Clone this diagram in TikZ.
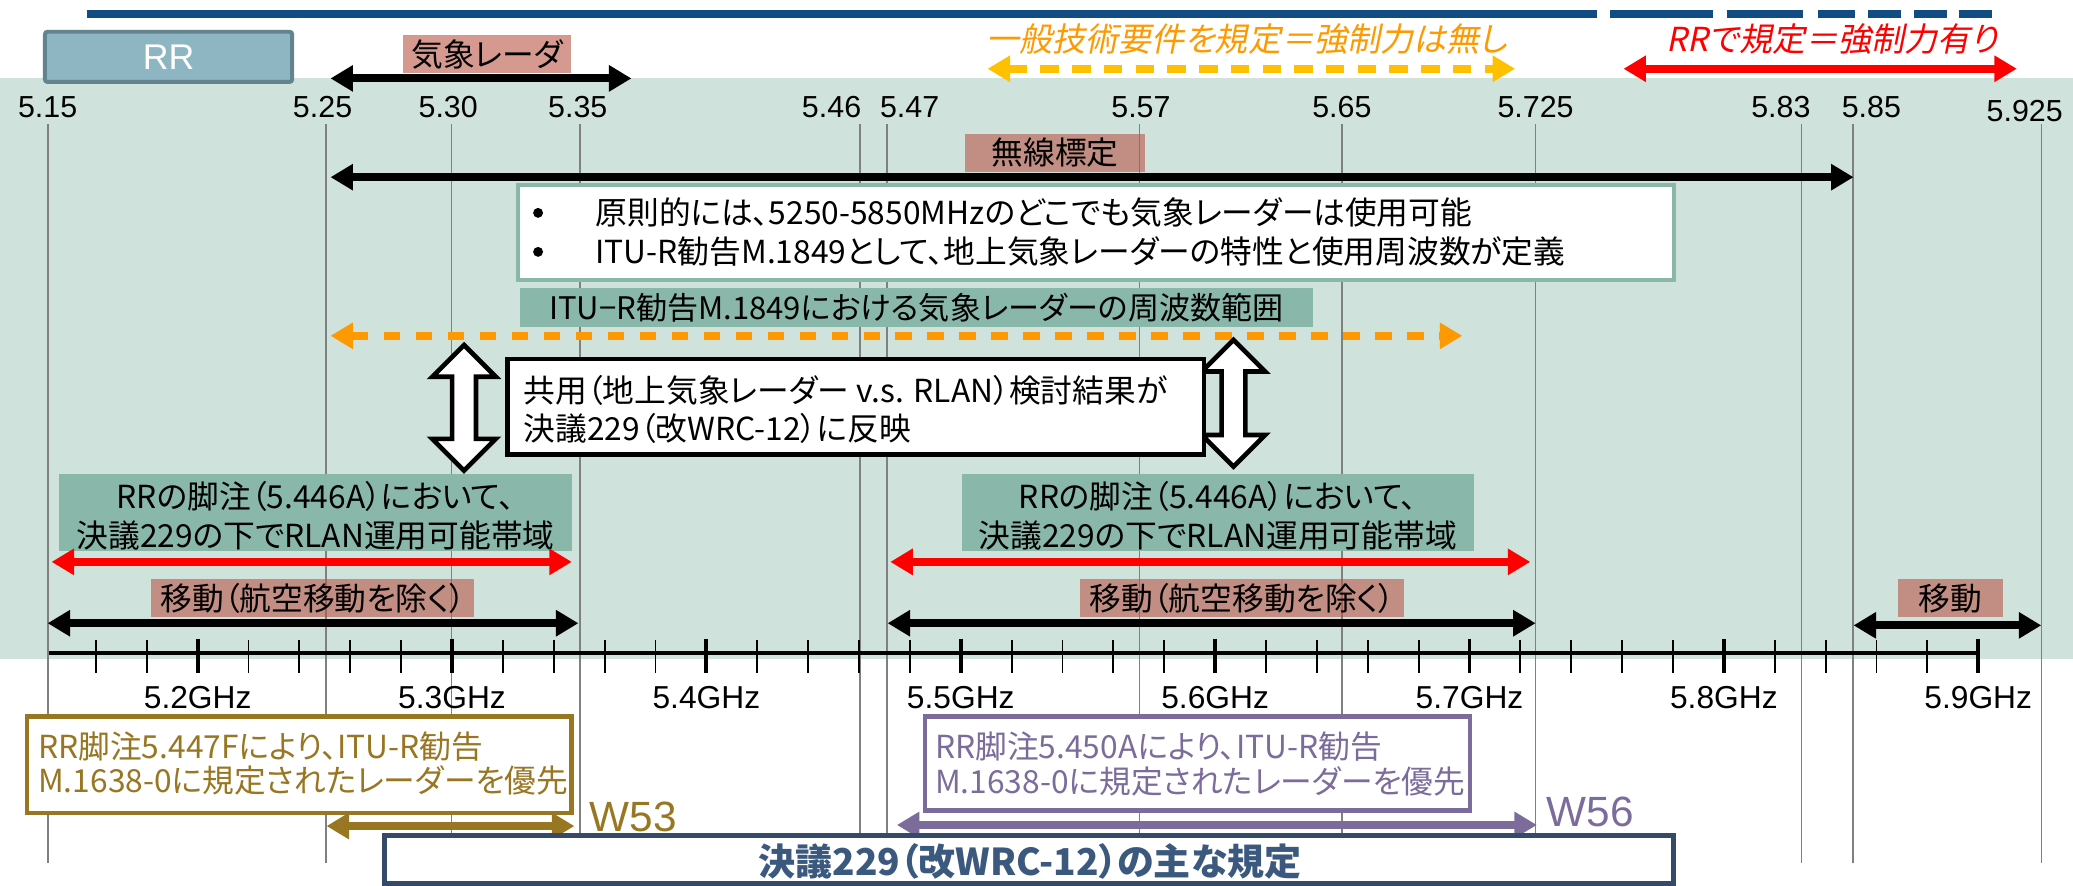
\documentclass[tikz,border=0pt]{standalone}
\usepackage{fontspec}
\setmainfont{Liberation Sans}
\newfontfamily\jp[RawFeature=+palt]{Noto Sans CJK JP}
\newfontfamily\jpit[RawFeature=+palt,FakeSlant=0.2]{Noto Sans CJK JP}
\usetikzlibrary{arrows.meta}
\definecolor{bggreen}{RGB}{208,226,220}
\definecolor{barblue}{RGB}{17,76,130}
\definecolor{rrfill}{RGB}{141,182,194}
\definecolor{rrdraw}{RGB}{99,132,142}
\definecolor{pinkc}{RGB}{185,85,70}
\definecolor{glbl}{RGB}{137,184,170}
\definecolor{gline}{RGB}{128,128,128}
\definecolor{goldc}{RGB}{255,192,0}
\definecolor{orng}{RGB}{255,153,0}
\definecolor{brgold}{RGB}{152,118,34}
\definecolor{purp}{RGB}{123,108,155}
\definecolor{navy}{RGB}{52,74,104}
\definecolor{navytxt}{RGB}{59,89,127}
\newcommand{\fsz}[1]{\fontsize{#1pt}{#1pt}\selectfont}
\begin{document}
\begin{tikzpicture}[x=1pt,y=-1pt,
 every node/.style={inner sep=0pt,outer sep=0pt},
 box/.style={anchor=north west},
 vline/.style={draw=gline,line width=1.2pt},
 flab/.style={font=\fsz{23}},
 glab/.style={font=\fsz{24}},
 jt/.style={font=\jp\fsz{24}},
 pinkbox/.style={box,fill=pinkc,fill opacity=0.6,text opacity=1,font=\jp\fsz{24}},
 greenbox/.style={box,fill=glbl},
 dblarrow/.style={line width=6pt,{Triangle[length=17pt,width=19pt]}-{Triangle[length=17pt,width=19pt]}},
 hollow/.style={draw=black,fill=white,line width=3.5pt,line join=miter},
 bulletdot/.style={circle,fill=black,minimum size=7.5pt},
]
\useasboundingbox (0,0) rectangle (1568,670);
\fill[bggreen] (0,59) rectangle (1568,498.5);

% top bar
\draw[barblue,line width=6pt] (66,10.5) -- (1208,10.5);
\foreach \a/\b in {1218/1296,1306/1364,1375/1403,1413/1438,1448/1473,1482/1507}
  \draw[barblue,line width=6pt] (\a,10.5) -- (\b,10.5);

% vertical frequency lines
\foreach \x in {36.5,246.5,341.5,438.7,650.5,671,862,1015,1161.5,1362.5,1401.5,1544}
  \draw[vline] (\x,94) -- (\x,653);

% RR box
\node[box,draw=rrdraw,fill=rrfill,line width=3pt,rounded corners=2pt,minimum width=187pt,minimum height=38pt,text=white,font=\fsz{27}] (rr) at (34,24) {RR};

% weather radar
\node[pinkbox,minimum width=127pt,minimum height=29pt] (kisho) at (305,26.5) {気象レーダ};
\coordinate (k1) at (250,59.3); \coordinate (k2) at (477.6,59.3);
\draw[dblarrow] (k1) -- (k2);

% top italic texts and arrows
\node[font=\jpit\fsz{25},text=orng] (ippan) at (943,29.5) {一般技術要件を規定＝強制力は無し};
\coordinate (g1) at (747,52); \coordinate (g2) at (1146,52);
\draw[dblarrow,goldc,dash pattern=on 14pt off 10pt] (g1) -- (g2);
\node[font=\jpit\fsz{25},text=red] (rrkitei) at (1386,29.5) {RRで規定＝強制力有り};
\coordinate (r1) at (1228,52); \coordinate (r2) at (1525.5,52);
\draw[dblarrow,red] (r1) -- (r2);

% frequency labels
\foreach \x/\t in {36/5.15,244/5.25,339/5.30,437/5.35,629/5.46,688/5.47,863/5.57,1015/5.65,1161.5/5.725,1347/5.83,1415.5/5.85}
  \node[flab,anchor=base] (lab\x) at (\x,88.5) {\t};
\node[flab,anchor=base] (lab5925) at (1531.5,92) {5.925};

% radiolocation
\node[pinkbox,minimum width=136pt,minimum height=29pt] (musen) at (730,101) {無線標定};
\coordinate (m1) at (250,134); \coordinate (m2) at (1402,134);
\draw[dblarrow] (m1) -- (m2);

% white box with bullets
\node[box,draw=glbl,fill=white,line width=3pt,minimum width=874pt,minimum height=72pt] (gensoku) at (392,140) {};
\node[bulletdot] (b1) at (407,161) {};
\node[bulletdot] (b2) at (407,190.5) {};
\node[jt,anchor=west] (t1) at (450.5,161) {原則的には、5250-5850MHzのどこでも気象レーダーは使用可能};
\node[jt,anchor=west] (t2) at (450.5,190.5) {ITU-R勧告M.1849として、地上気象レーダーの特性と使用周波数が定義};

% ITU label + dashed arrow
\node[greenbox,minimum width=600pt,minimum height=29pt,font=\jp\fsz{23.5}] (itu) at (393,218) {ITU−R勧告M.1849における気象レーダーの周波数範囲};
\coordinate (o1) at (250,254); \coordinate (o2) at (1106,254);
\draw[dblarrow,orng,dash pattern=on 12.6pt off 11.6pt] (o1) -- (o2);

% hollow double arrows
\draw[hollow] (351,261) -- (375,285) -- (360,285) -- (360,332) -- (375,332) -- (351,356) -- (327,332) -- (342,332) -- (342,285) -- (327,285) -- cycle;
\draw[hollow] (933,257) -- (957,281) -- (942,281) -- (942,329) -- (957,329) -- (933,353) -- (909,329) -- (924,329) -- (924,281) -- (909,281) -- cycle;

% sharing study box
\node[box,draw=black,fill=white,line width=3.5pt,minimum width=527pt,minimum height=72.5pt] (kyoyo) at (383.7,271.5) {};
\node[jt,anchor=west] (k1t) at (396,295) {共用（地上気象レーダー v.s. RLAN）検討結果が};
\node[jt,anchor=west] (k2t) at (396,324) {決議229（改WRC-12）に反映};

% RR footnote labels
\node[greenbox,minimum width=387.4pt,minimum height=58.4pt] (fnL) at (45,358.6) {};
\node[jt] (fnL1) at (238.7,375.7) {RRの脚注（5.446A）において、};
\node[jt] (fnL2) at (238.7,404.7) {決議229の下でRLAN運用可能帯域};
\node[greenbox,minimum width=387.1pt,minimum height=58.4pt] (fnR) at (727.6,358.6) {};
\node[jt] (fnR1) at (921.2,375.7) {RRの脚注（5.446A）において、};
\node[jt] (fnR2) at (921.2,404.7) {決議229の下でRLAN運用可能帯域};
\coordinate (rl1) at (39,425); \coordinate (rl2) at (432.5,425);
\draw[dblarrow,red] (rl1) -- (rl2);
\coordinate (rr1) at (673.4,425); \coordinate (rr2) at (1157.5,425);
\draw[dblarrow,red] (rr1) -- (rr2);

% mobile labels
\node[pinkbox,minimum width=244.4pt,minimum height=29pt] (idoL) at (114.4,438) {移動（航空移動を除く）};
\node[pinkbox,minimum width=245.6pt,minimum height=29pt] (idoR) at (816.7,438) {移動（航空移動を除く）};
\node[pinkbox,minimum width=79pt,minimum height=29pt] (idoS) at (1435.8,438) {移動};
\coordinate (bl1) at (36,471.4); \coordinate (bl2) at (437.5,471.4);
\draw[dblarrow] (bl1) -- (bl2);
\coordinate (br1) at (671.4,471.4); \coordinate (br2) at (1161.5,471.4);
\draw[dblarrow] (br1) -- (br2);
\coordinate (bs1) at (1402,473); \coordinate (bs2) at (1544,473);
\draw[dblarrow] (bs1) -- (bs2);

% axis
\coordinate (ax1) at (37,494); \coordinate (ax2) at (1496,494);
\draw[line width=3pt] (ax1) -- (ax2);
\foreach \i in {0,...,37}{
  \pgfmathsetmacro\xx{72.54+38.48*\i}
  \pgfmathtruncatemacro\mm{mod(\i+3,5)}
  \ifnum\mm=0
    \draw[line width=3pt] (\xx,483) -- (\xx,509);
  \else
    \draw[line width=1.4pt] (\xx,484) -- (\xx,509);
  \fi
}
\foreach \k/\t in {0/5.2,1/5.3,2/5.4,3/5.5,4/5.6,5/5.7,6/5.8,7/5.9}
  \node[glab] (ghz\k) at ({149.5+192.4*\k},528) {\t GHz};

% W53 box
\node[box,draw=brgold,fill=white,line width=3.3pt,minimum width=412pt,minimum height=73pt] (w53box) at (20.4,542) {};
\node[jt,anchor=west,text=brgold] (w53a) at (28.9,564.5) {RR脚注5.447Fにより、ITU-R勧告};
\node[jt,anchor=west,text=brgold] (w53b) at (28.9,590.5) {M.1638-0に規定されたレーダーを優先};
\coordinate (wa1) at (247,624.8); \coordinate (wa2) at (434.5,624.8);
\draw[dblarrow,brgold] (wa1) -- (wa2);
\node[font=\fsz{32},text=brgold,anchor=west] (w53) at (446,618) {W53};

% W56 box
\node[box,draw=purp,fill=white,line width=3.3pt,minimum width=412.3pt,minimum height=71pt] (w56box) at (699.7,542) {};
\node[jt,anchor=west,text=purp] (w56a) at (707.3,564.8) {RR脚注5.450Aにより、ITU-R勧告};
\node[jt,anchor=west,text=purp] (w56b) at (707.3,591.3) {M.1638-0に規定されたレーダーを優先};
\coordinate (wb1) at (678.4,624); \coordinate (wb2) at (1162.5,624);
\draw[dblarrow,purp] (wb1) -- (wb2);
\node[font=\fsz{32},text=purp,anchor=west] (w56) at (1170,614.5) {W56};

% bottom title box
\node[box,draw=navy,fill=white,line width=4pt,minimum width=975pt,minimum height=36pt] (titlebox) at (291,632) {};
\node[font=\jp\bfseries\fsz{28},text=navytxt] (title) at (779,651.5) {決議229（改WRC-12）の主な規定};
\end{tikzpicture}
\end{document}
